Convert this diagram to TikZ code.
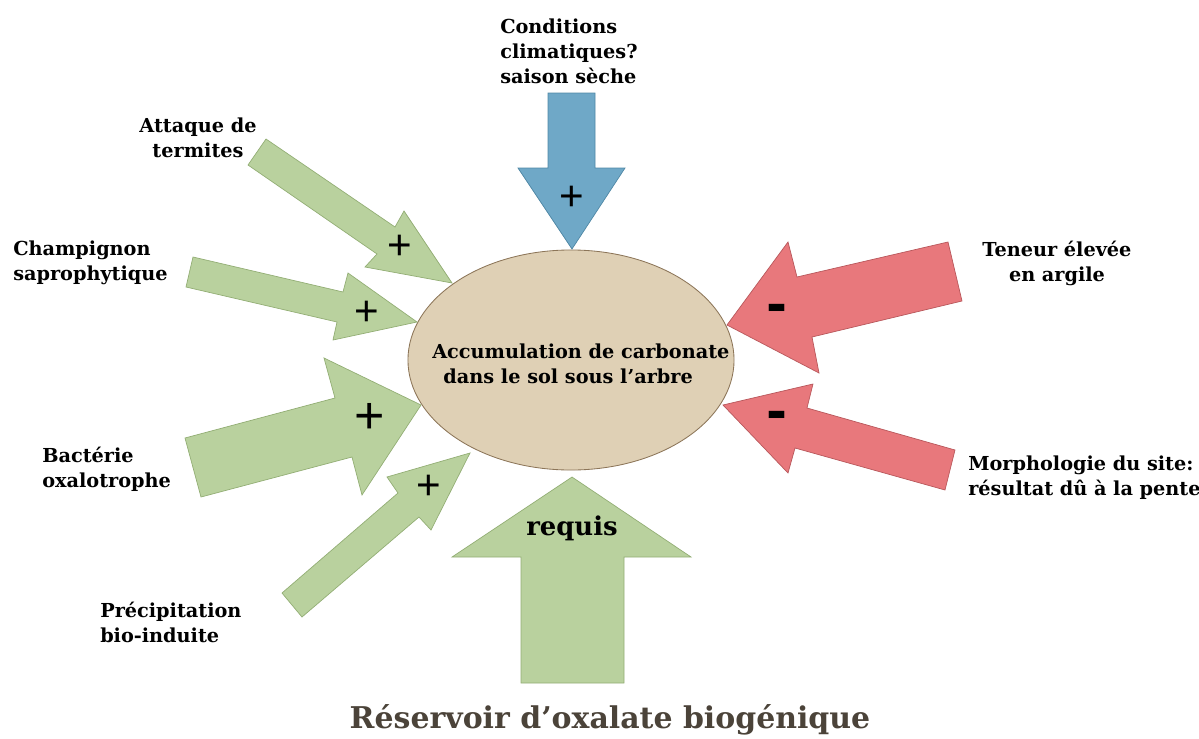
\documentclass[tikz,border=0pt]{standalone}
\usepackage{fontspec}
\usetikzlibrary{shapes.geometric}
\setmainfont{DejaVu Serif}
\newfontfamily\signfont{Liberation Sans}
\newfontfamily\barfont{DejaVu Sans}
\definecolor{leafgreen}{HTML}{B9D19E}
\definecolor{leafline}{HTML}{93AE75}
\definecolor{clayred}{HTML}{E8787C}
\definecolor{clayline}{HTML}{B8575B}
\definecolor{rainblue}{HTML}{6FA8C7}
\definecolor{rainline}{HTML}{4F87A5}
\definecolor{soilfill}{HTML}{DFD0B5}
\definecolor{soilline}{HTML}{8C7558}
\definecolor{titlegray}{HTML}{4B4339}
\tikzset{x=0.025cm, y=-0.025cm,
    plusarrow/.style={fill=leafgreen, draw=leafline, line width=0.5pt, line join=miter},
    minusarrow/.style={fill=clayred, draw=clayline, line width=0.5pt, line join=miter},
    climarrow/.style={fill=rainblue, draw=rainline, line width=0.5pt, line join=miter},
    factor/.style={inner sep=0pt, font=\fontsize{13.7}{17.8}\selectfont\bfseries},
    sign/.style={inner sep=0pt, font=\signfont\fontsize{30}{30}\selectfont},
    bar/.style={inner sep=0pt, font=\barfont\bfseries\fontsize{36}{36}\selectfont}}

\begin{document}
\begin{tikzpicture}
	\useasboundingbox (0,0) rectangle (1199,738);
	% reservoir
	\node[ellipse, draw=soilline, fill=soilfill, line width=0.6pt,
		minimum width=8.15cm, minimum height=5.5cm, inner sep=0pt] (soil) at (571,360) {};
	\node[factor, align=left, anchor=west] (accum) at (432,364)
		{Accumulation de carbonate\\\hspace*{0.28cm}dans le sol sous l'arbre};
	% incoming arrows
	\draw[climarrow] (548,93) -- (595,93) -- (595,168) -- (625,168) -- (572,249)
		-- (518,168) -- (548,168) -- cycle;
	\draw[plusarrow] (266,139) -- (395,227) -- (404,211) -- (452,283) -- (365,267)
		-- (377,254) -- (248,165) -- cycle;
	\draw[plusarrow] (193,257) -- (343,292) -- (348,273) -- (417,322) -- (333,340)
		-- (337,322) -- (186,287) -- cycle;
	\draw[plusarrow] (185,438) -- (335,398) -- (324,358) -- (421,405) -- (362,495)
		-- (352,457) -- (201,497) -- cycle;
	\draw[plusarrow] (282,593) -- (398,493) -- (387,477) -- (470,453) -- (431,530)
		-- (419,517) -- (302,617) -- cycle;
	\draw[plusarrow] (521,683) -- (624,683) -- (624,557) -- (691,557) -- (572,477)
		-- (452,557) -- (521,557) -- cycle;
	\draw[minusarrow] (948,242) -- (797,277) -- (788,242) -- (727,325) -- (819,373)
		-- (812,337) -- (962,301) -- cycle;
	\draw[minusarrow] (955,450) -- (807,408) -- (813,384) -- (723,405) -- (788,473)
		-- (795,448) -- (945,490) -- cycle;
	% signs
	\node[sign] (pclim) at (572,198) {+};
	\node[sign] (pterm) at (400,247) {+};
	\node[sign] (pchamp) at (367,313) {+};
	\node[sign, font=\signfont\fontsize{37}{37}\selectfont] (pbact) at (370,418) {+};
	\node[sign] (pprec) at (429,487) {+};
	\node[bar] (mclay) at (777,313) {-};
	\node[bar] (mslope) at (777,420) {-};
	\node[factor, font=\fontsize{18.4}{22}\selectfont\bfseries] (requis) at (572,528) {requis};
	% labels
	\node[factor, align=left, anchor=west] (clim) at (500,51)
		{Conditions\\climatiques?\\saison sèche};
	\node[factor, align=center] (term) at (198,138) {Attaque de\\termites};
	\node[factor, align=left, anchor=west] (champ) at (13,263) {Champignon\\saprophytique};
	\node[factor, align=left, anchor=west] (bact) at (42,469) {Bactérie\\oxalotrophe};
	\node[factor, align=left, anchor=west] (prec) at (100,622) {Précipitation\\bio-induite};
	\node[factor, align=center] (clay) at (1057,263) {Teneur élevée\\en argile};
	\node[factor, align=left, anchor=west] (slope) at (968,478)
		{Morphologie du site:\\résultat dû à la pente};
	\node[factor, text=titlegray, font=\fontsize{21.3}{26}\selectfont\bfseries]
		(oxal) at (610,720) {Réservoir d’oxalate biogénique};
\end{tikzpicture}
\end{document}
